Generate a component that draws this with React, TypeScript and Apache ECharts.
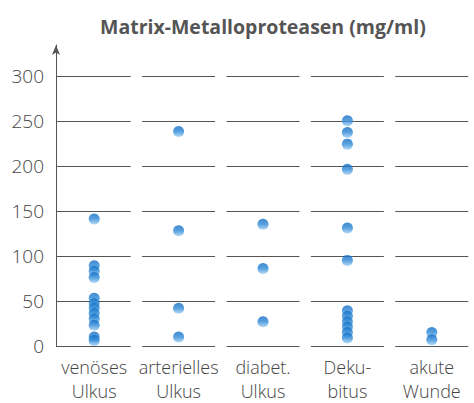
import React, { useEffect, useRef } from "react";
import * as echarts from "echarts";

const title = "Matrix-Metalloproteasen (mg/ml)";
const categories = ["venöses\nUlkus", "arterielles\nUlkus", "diabet.\nUlkus", "Deku-\nbitus", "akute\nWunde"];
const venoses = [141, 89, 83, 76, 53, 47, 42, 36, 30, 23, 10, 6];
const arterielles = [238, 128, 42, 10];
const diabet = [135, 86, 27];
const dekubitus = [250, 237, 224, 196, 131, 95, 39, 33, 27, 21, 15, 9];
const akute = [15, 7];
const groups = [venoses, arterielles, diabet, dekubitus, akute];
const yTicks = [0, 50, 100, 150, 200, 250, 300];

export default function App() {
  const ref = useRef<HTMLDivElement>(null);
  useEffect(() => {
    if (!ref.current) return;
    const chart = echarts.init(ref.current, null, { renderer: "svg" });
    const points: number[][] = [];
    groups.forEach((g, i) => g.forEach((v) => points.push([i, v])));
    const gridData: number[][] = [];
    categories.forEach((_, i) => yTicks.forEach((t) => gridData.push([i, t])));
    chart.setOption({
      animation: false,
      textStyle: { fontFamily: "'Open Sans', sans-serif" },
      title: {
        text: title,
        left: 95,
        top: 11,
        textStyle: { fontSize: 19.5, fontWeight: "bold", color: "#555", fontFamily: "'Open Sans', sans-serif" },
      },
      grid: { left: 52, top: 45, width: 434, height: 305 },
      xAxis: {
        type: "category",
        data: categories,
        axisLine: { show: false },
        axisTick: { show: false },
        splitLine: { show: false },
        axisLabel: {
          interval: 0,
          fontSize: 18,
          lineHeight: 24,
          color: "#444",
          fontWeight: 300,
          margin: 9,
          fontFamily: "'Open Sans', sans-serif",
        },
      },
      yAxis: {
        type: "value",
        min: 0,
        max: 334,
        interval: 50,
        offset: -4,
        axisLine: {
          show: true,
          symbol: ["none", "arrow"],
          symbolSize: [6, 10],
          lineStyle: { color: "#555", width: 1 },
        },
        axisTick: { show: false },
        splitLine: { show: false },
        axisLabel: {
          fontSize: 19,
          color: "#444",
          fontWeight: 300,
          margin: 12,
          fontFamily: "'Open Sans', sans-serif",
          formatter: (v: number) => (v % 50 === 0 ? String(v) : ""),
        },
      },
      series: [
        {
          type: "custom",
          data: gridData,
          silent: true,
          z: 1,
          renderItem: (params: any, api: any) => {
            const cat = api.value(0);
            const val = api.value(1);
            const c = api.coord([cat, val]);
            const bw = api.size([1, 0])[0];
            const half = bw * 0.432;
            const x1 = cat === 0 ? c[0] - bw * 0.5 + 4 : c[0] - half;
            const x2 = c[0] + half;
            const y = Math.round(c[1]) + 0.5;
            return {
              type: "line",
              shape: { x1, y1: y, x2, y2: y },
              style: { stroke: "#555", lineWidth: 1.2 },
            };
          },
        },
        {
          type: "scatter",
          data: points,
          symbol: "circle",
          symbolSize: 11,
          z: 3,
          itemStyle: {
            color: new echarts.graphic.LinearGradient(0, 0, 0, 1, [
              { offset: 0, color: "#0f6cc2" },
              { offset: 0.5, color: "#2f8ad8" },
              { offset: 1, color: "#a3cff2" },
            ]),
          },
        },
      ],
    });
    return () => chart.dispose();
  }, []);
  return <div ref={ref} style={{ width: 474, height: 403, position: "absolute", left: 0, top: 0 }} />;
}
